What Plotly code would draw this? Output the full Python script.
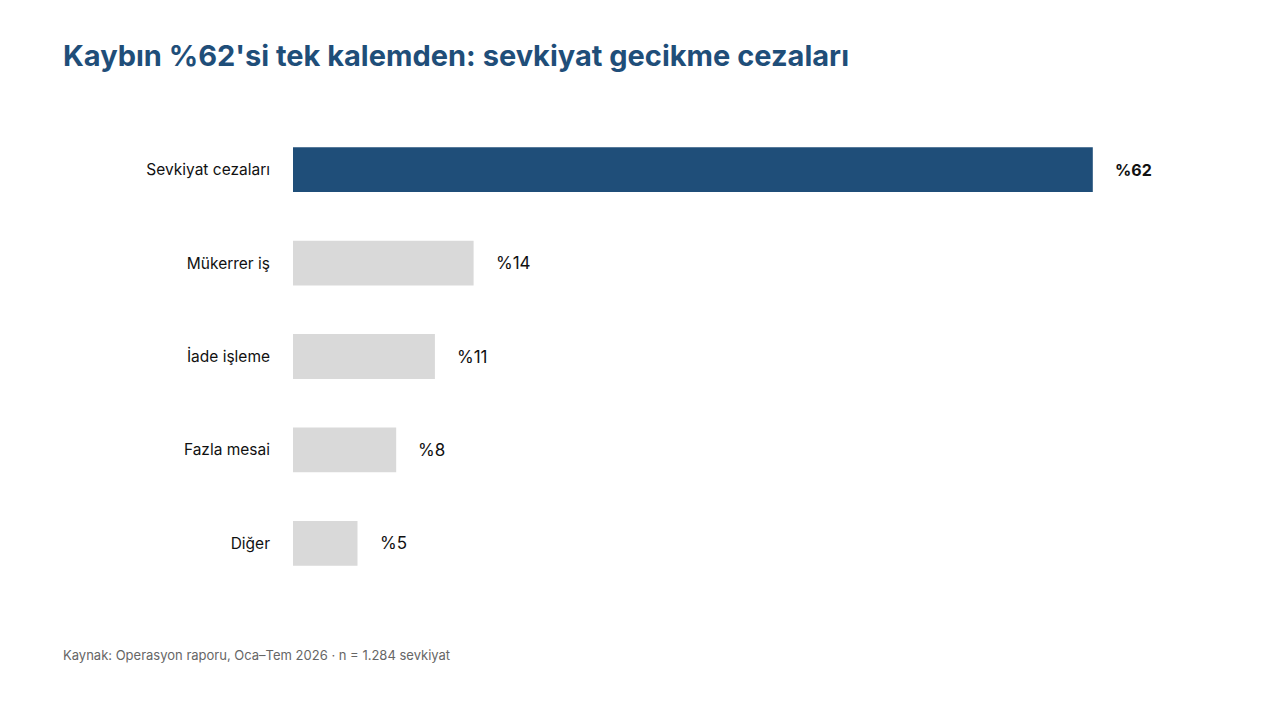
import plotly.graph_objects as go

categories = ["Sevkiyat cezaları", "Mükerrer iş", "İade işleme", "Fazla mesai", "Diğer"]
shares = [62, 14, 11, 8, 5]
value_labels = ["%62", "%14", "%11", "%8", "%5"]

W, H = 1280, 720
OFF = 8  # page body margin shifts the figure
ML, MT = 293 - OFF, 123 - OFF
plot_w = 903
plot_h = 467
MR = W - ML - plot_w
MB = H - MT - plot_h

colors = ["#1F4E79"] + ["#D9D9D9"] * (len(categories) - 1)

fig = go.Figure()
fig.add_trace(go.Bar(
    x=shares,
    y=categories,
    orientation="h",
    marker=dict(color=colors, line=dict(width=0)),
    hoverinfo="skip",
))

# value labels to the right of each bar
for i, (v, lab) in enumerate(zip(shares, value_labels)):
    fig.add_annotation(
        x=v, y=categories[i], text=f"<b>{lab}</b>" if i == 0 else lab,
        showarrow=False, xanchor="left", xshift=20,
        font=dict(family="Inter, Liberation Sans, sans-serif",
                  size=16 if i == 0 else 17, color="#111111"),
    )

# footnote
fig.add_annotation(
    x=(61 - OFF - ML) / plot_w, y=-(655 - OFF - MT - plot_h) / plot_h,
    xref="paper", yref="paper", xanchor="left", yanchor="middle",
    text="Kaynak: Operasyon raporu, Oca–Tem 2026 · n = 1.284 sevkiyat",
    showarrow=False,
    font=dict(family="Inter, sans-serif", size=13, color="#666666"),
)

fig.update_layout(
    width=W, height=H,
    margin=dict(l=ML, r=MR, t=MT, b=MB),
    paper_bgcolor="white", plot_bgcolor="white",
    bargap=0.52,
    showlegend=False,
    title=dict(
        text="<b>Kaybın %62'si tek kalemden: sevkiyat gecikme cezaları</b>",
        xref="container", yref="container",
        x=(63 - OFF) / W, y=1 - (56 - OFF) / H, xanchor="left", yanchor="middle",
        font=dict(family="Inter, sans-serif", size=29, color="#1F4E79"),
    ),
    xaxis=dict(range=[0, 70], visible=False, fixedrange=True),
    yaxis=dict(
        autorange="reversed", showgrid=False, zeroline=False, showline=False,
        ticks="", ticklabelstandoff=22,
        tickfont=dict(family="Inter, sans-serif", size=15.5, color="#111111"),
    ),
)

fig.write_html("out.html")
